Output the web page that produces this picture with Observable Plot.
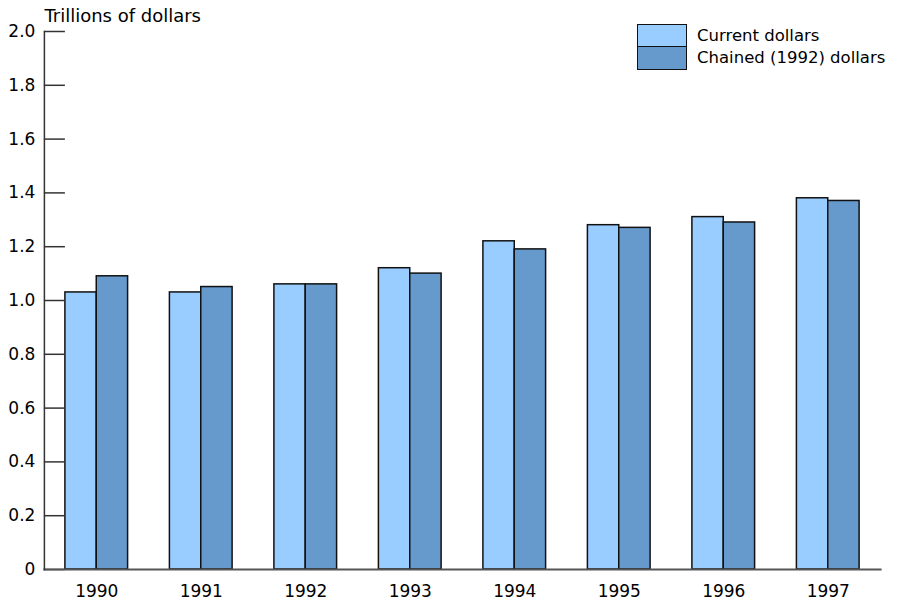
<!DOCTYPE html>
<html>
<head>
<meta charset="utf-8">
<script src="https://cdn.jsdelivr.net/npm/d3@7"></script>
<script src="https://cdn.jsdelivr.net/npm/@observablehq/plot@0.6"></script>
<style>
  body { margin: 0; background: #fff; font-family: "DejaVu Sans", sans-serif; }
  #wrap { position: relative; width: 898px; height: 604px; }
  .legend { position: absolute; left: 637px; top: 24px; font-size: 16.5px; color: #000; }
  .row { display: flex; align-items: center; height: 23px; }
  .sw { width: 48px; height: 22px; border: 1px solid #111; box-sizing: content-box; margin-right: 10px; }
  .row + .row { margin-top: -1px; }
</style>
</head>
<body>
<div id="wrap"></div>
<script>
const years = ["1990", "1991", "1992", "1993", "1994", "1995", "1996", "1997"];
const currentDollars = [1.03, 1.03, 1.06, 1.12, 1.22, 1.28, 1.31, 1.38];
const chainedDollars = [1.09, 1.05, 1.06, 1.10, 1.19, 1.27, 1.29, 1.37];
const seriesNames = ["Current dollars", "Chained (1992) dollars"];
const seriesColors = ["#99ccff", "#6699cc"];
const yTicks = [0, 0.2, 0.4, 0.6, 0.8, 1.0, 1.2, 1.4, 1.6, 1.8, 2.0];
const titleText = ["Trillions of dollars"];

const data = years.flatMap((yr, i) => [
  {year: yr, series: seriesNames[0], value: currentDollars[i]},
  {year: yr, series: seriesNames[1], value: chainedDollars[i]}
]);

const chart = Plot.plot({
  width: 898,
  height: 604,
  marginLeft: 44,
  marginRight: 18,
  marginTop: 31,
  marginBottom: 35,
  style: {fontFamily: "DejaVu Sans", fontSize: "17px", color: "#000", background: "#fff"},
  fx: {domain: years, paddingInner: 0.4, paddingOuter: 0.2, round: false, label: null},
  x: {domain: seriesNames, padding: 0, round: false, axis: null},
  y: {domain: [0, 2], label: null},
  color: {domain: seriesNames, range: seriesColors},
  marks: [
    Plot.barY(data, {fx: "year", x: "series", y: "value", fill: "series", stroke: "#111", strokeWidth: 1.5}),
    Plot.axisY(yTicks, {tickSize: 21, tickPadding: 9, stroke: "#333", strokeWidth: 1.5, label: null,
      tickFormat: d => d === 0 ? "0" : d.toFixed(1)}),
    Plot.axisFx({anchor: "bottom", tickSize: 0, tickPadding: 15, label: null}),
    Plot.frame({anchor: "bottom", facet: "super", insetLeft: -21, insetRight: -21, stroke: "#555", strokeWidth: 2}),
    Plot.frame({anchor: "left", facet: "super", insetLeft: -21, stroke: "#333", strokeWidth: 1.5}),
    Plot.text(titleText, {frameAnchor: "top-left", facet: "super", dx: -21, textAnchor: "start", lineAnchor: "bottom", dy: -10, fontSize: 18})
  ]
});

const wrap = document.getElementById("wrap");
wrap.appendChild(chart);

const legend = document.createElement("div");
legend.className = "legend";
seriesNames.forEach((name, i) => {
  const row = document.createElement("div");
  row.className = "row";
  const sw = document.createElement("div");
  sw.className = "sw";
  sw.style.background = seriesColors[i];
  const label = document.createElement("span");
  label.textContent = name;
  row.appendChild(sw);
  row.appendChild(label);
  legend.appendChild(row);
});
wrap.appendChild(legend);
</script>
</body>
</html>
